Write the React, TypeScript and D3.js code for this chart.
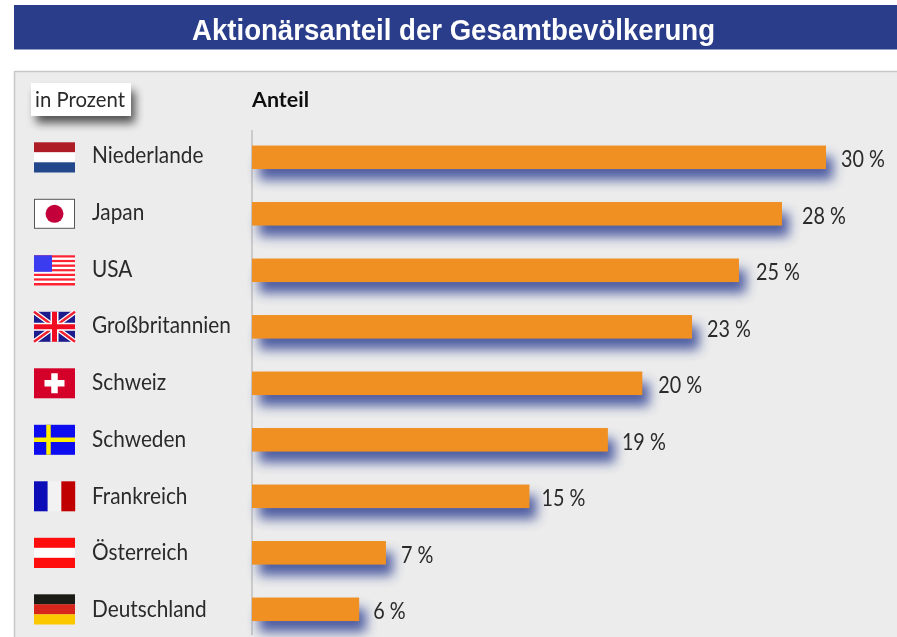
import React from "react";
import * as d3 from "d3";

const TITLE = "Aktionärsanteil der Gesamtbevölkerung";
const UNIT_LABEL = "in Prozent";
const VALUE_HEADER = "Anteil";
const countries = ["Niederlande", "Japan", "USA", "Großbritannien", "Schweiz", "Schweden", "Frankreich", "Österreich", "Deutschland"];
const shares = [30, 27.7, 25.45, 23, 20.4, 18.6, 14.5, 7, 5.6];
const shareLabels = ["30 %", "28 %", "25 %", "23 %", "20 %", "19 %", "15 %", "7 %", "6 %"];

const W = 897, H = 637;
const x = d3.scaleLinear().domain([0, 30]).range([252, 826]);
const y = d3.scaleBand<string>().domain(countries).range([129.05, 637.55]);
const BAR_H = 23.5;
const FONT = "Lato, 'Open Sans', sans-serif";
// gap between bar end and its value label, in px
const labelGap = [15, 20, 17, 15, 16, 14, 12, 15, 14];

const FW = 41, FH = 30;
function Hor({ c }: { c: string[] }) {
  return <>{c.map((f, i) => <rect key={i} y={(i * FH) / c.length} width={FW} height={FH / c.length + 0.2} fill={f} />)}</>;
}
function Ver({ c }: { c: string[] }) {
  return <>{c.map((f, i) => <rect key={i} x={(i * FW) / c.length} width={FW / c.length + 0.2} height={FH} fill={f} />)}</>;
}
function Flag({ name }: { name: string }) {
  switch (name) {
    case "Niederlande": return <Hor c={["#ae1c28", "#ffffff", "#21468b"]} />;
    case "Japan": return <g><rect x={0.5} y={0.5} width={FW - 1} height={FH - 1} fill="#fff" stroke="#555" /><circle cx={FW / 2} cy={FH / 2} r={9} fill="#c4003a" /></g>;
    case "USA": return <g>
      <Hor c={d3.range(13).map(i => i % 2 ? "#ffffff" : "#ff2030")} />
      <rect width={18} height={16.5} fill="#3a3af0" />
    </g>;
    case "Großbritannien": return <g>
      <rect width={FW} height={FH} fill="#1c1c8c" />
      <path d={`M0 0L${FW} ${FH}M${FW} 0L0 ${FH}`} stroke="#fff" strokeWidth={5} />
      <path d={`M0 0L${FW} ${FH}M${FW} 0L0 ${FH}`} stroke="#f02030" strokeWidth={2.5} />
      <path d={`M${FW / 2} 0V${FH}M0 ${FH / 2}H${FW}`} stroke="#fff" strokeWidth={8} />
      <path d={`M${FW / 2} 0V${FH}M0 ${FH / 2}H${FW}`} stroke="#f01020" strokeWidth={5} />
    </g>;
    case "Schweiz": return <g>
      <rect width={FW} height={FH} fill="#d4002a" />
      <path d={`M${FW / 2} 5V${FH - 5}M${FW / 2 - 10} ${FH / 2}H${FW / 2 + 10}`} stroke="#fff" strokeWidth={6.5} />
    </g>;
    case "Schweden": return <g>
      <rect width={FW} height={FH} fill="#0808f0" />
      <path d={`M14.5 0V${FH}M0 ${FH / 2}H${FW}`} stroke="#ffee00" strokeWidth={4.5} />
    </g>;
    case "Frankreich": return <Ver c={["#0808b8", "#f2f2f2", "#c00000"]} />;
    case "Österreich": return <Hor c={["#ff0a10", "#ffffff", "#ff0a10"]} />;
    default: return <Hor c={["#1f1a17", "#d8261c", "#fbc800"]} />;
  }
}

export default function App() {
  return (
    <svg width={W} height={H} viewBox={`0 0 ${W} ${H}`} style={{ position: "fixed", left: 0, top: 0, background: "#fff" }}>
      <defs>
        <filter id="soft" x="-2%" y="-2%" width="104%" height="104%"><feGaussianBlur stdDeviation={0.6} /></filter>
        <filter id="barShadow" filterUnits="userSpaceOnUse" x={230} y={120} width={660} height={517}><feGaussianBlur stdDeviation={6} /></filter>
        <filter id="boxShadow" x="-30%" y="-60%" width="160%" height="220%"><feGaussianBlur stdDeviation={5} /></filter>
      </defs>
      <g filter="url(#soft)">
        <rect x={14} y={5} width={W - 14} height={44.5} fill="#2a3c8a" />
        <text x={453.5} y={39.5} textAnchor="middle" fontFamily="'Liberation Sans', Arial, sans-serif" fontWeight="bold" fontSize={29} textLength={523} lengthAdjust="spacingAndGlyphs" fill="#fff">{TITLE}</text>

        <rect x={14.5} y={71.5} width={W} height={H} fill="#ececec" stroke="#c8c8c8" strokeWidth={1.5} />

        <rect x={36} y={91} width={99} height={32} fill="#000" opacity={0.65} filter="url(#boxShadow)" />
        <rect x={31} y={83} width={100} height={33} fill="#fff" />
        <text x={35} y={107} fontFamily={FONT} fontSize={22} fill="#2a2a2a" textLength={90} lengthAdjust="spacingAndGlyphs">{UNIT_LABEL}</text>
        <text x={252} y={107} fontFamily={FONT} fontWeight="bold" fontSize={21} fill="#111" textLength={57} lengthAdjust="spacingAndGlyphs">{VALUE_HEADER}</text>

        <line x1={252} x2={252} y1={130} y2={635} stroke="#b5b5b5" strokeWidth={1.2} />

        {countries.map((c, i) => {
          const cy = y(c)! + y.bandwidth() / 2;
          const x1 = x(shares[i]);
          return (
            <g key={c}>
              <g transform={`translate(34,${cy - 15})`}><Flag name={c} /></g>
              <text transform={`translate(92,${cy + 5.7 + i * 0.25}) scale(0.925,1)`} fontFamily={FONT} fontSize={22.5} fill="#2a2a2a">{c}</text>
              <rect x={x(0) + 7} y={cy - BAR_H / 2 + 11} width={x1 - x(0)} height={BAR_H} fill="#2d3f92" opacity={0.82} filter="url(#barShadow)" />
              <rect x={x(0)} y={cy - BAR_H / 2} width={x1 - x(0)} height={BAR_H} fill="#f09020" />
              <text transform={`translate(${x1 + labelGap[i]},${cy + 10}) scale(0.88,1)`} fontFamily={FONT} fontSize={22.5} fill="#2a2a2a">{shareLabels[i]}</text>
            </g>
          );
        })}
      </g>
    </svg>
  );
}
